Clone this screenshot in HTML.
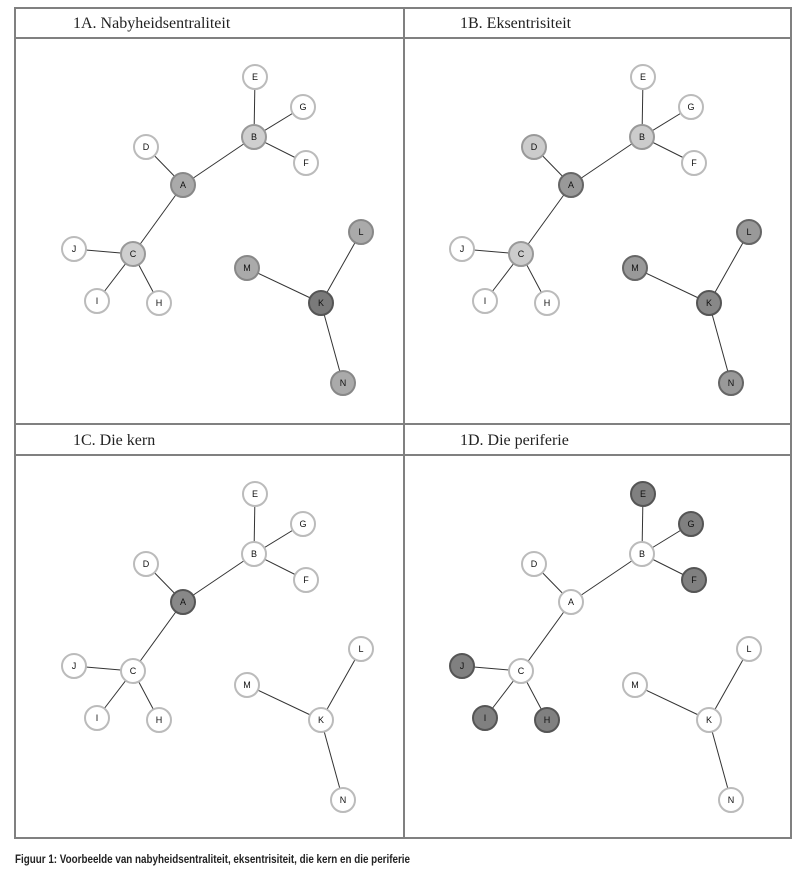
<!DOCTYPE html>
<html><head><style>
html,body{margin:0;padding:0;background:#fff;width:801px;height:881px;overflow:hidden}
</style></head><body>
<svg width="801" height="881" xmlns="http://www.w3.org/2000/svg">
<defs>
<g id="edges" stroke="#333" stroke-width="1">
<line x1="255" y1="77" x2="254" y2="137"/><line x1="303" y1="107" x2="254" y2="137"/>
<line x1="306" y1="163" x2="254" y2="137"/><line x1="183" y1="185" x2="254" y2="137"/>
<line x1="146" y1="147" x2="183" y2="185"/><line x1="183" y1="185" x2="133" y2="254"/>
<line x1="74" y1="249" x2="133" y2="254"/><line x1="97" y1="301" x2="133" y2="254"/>
<line x1="159" y1="303" x2="133" y2="254"/><line x1="361" y1="232" x2="321" y2="303"/>
<line x1="247" y1="268" x2="321" y2="303"/><line x1="343" y1="383" x2="321" y2="303"/>
</g>
</defs>
<!-- table -->
<g fill="none" stroke="#808080" stroke-width="2">
<rect x="15" y="8" width="776" height="830"/>
<line x1="404" y1="8" x2="404" y2="838"/>
<line x1="15" y1="38" x2="791" y2="38"/>
<line x1="15" y1="424" x2="791" y2="424"/>
<line x1="15" y1="455" x2="791" y2="455"/>
</g>
<g font-family="Liberation Serif, serif" font-size="16" fill="#222">
<text x="73" y="28">1A. Nabyheidsentraliteit</text>
<text x="460" y="28">1B. Eksentrisiteit</text>
<text x="73" y="445">1C. Die kern</text>
<text x="460" y="445">1D. Die periferie</text>
</g>
<text x="15" y="863" font-family="Liberation Sans Narrow, Liberation Sans, sans-serif" font-size="12" font-weight="bold" fill="#222" textLength="395" lengthAdjust="spacingAndGlyphs">Figuur 1: Voorbeelde van nabyheidsentraliteit, eksentrisiteit, die kern en die periferie</text>

<g font-family="Liberation Sans, sans-serif" font-size="9" text-anchor="middle" fill="#111" stroke-width="2">
<!-- 1A -->
<g>
<use href="#edges"/>
<g stroke="#bbb" fill="#fff">
<circle cx="255" cy="77" r="12"/><circle cx="303" cy="107" r="12"/><circle cx="306" cy="163" r="12"/><circle cx="146" cy="147" r="12"/>
<circle cx="74" cy="249" r="12"/><circle cx="97" cy="301" r="12"/><circle cx="159" cy="303" r="12"/>
</g>
<g stroke="#999" fill="#cfcfcf"><circle cx="254" cy="137" r="12"/><circle cx="133" cy="254" r="12"/></g>
<g stroke="#888" fill="#aaa"><circle cx="183" cy="185" r="12"/><circle cx="361" cy="232" r="12"/><circle cx="247" cy="268" r="12"/><circle cx="343" cy="383" r="12"/></g>
<g stroke="#555" fill="#7a7a7a"><circle cx="321" cy="303" r="12"/></g>
</g>
<!-- 1B -->
<g transform="translate(388,0)">
<use href="#edges"/>
<g stroke="#bbb" fill="#fff">
<circle cx="255" cy="77" r="12"/><circle cx="303" cy="107" r="12"/><circle cx="306" cy="163" r="12"/>
<circle cx="74" cy="249" r="12"/><circle cx="97" cy="301" r="12"/><circle cx="159" cy="303" r="12"/>
</g>
<g stroke="#999" fill="#cccccc"><circle cx="254" cy="137" r="12"/><circle cx="133" cy="254" r="12"/><circle cx="146" cy="147" r="12"/></g>
<g stroke="#666" fill="#999"><circle cx="183" cy="185" r="12"/><circle cx="361" cy="232" r="12"/><circle cx="247" cy="268" r="12"/><circle cx="343" cy="383" r="12"/></g>
<g stroke="#555" fill="#888"><circle cx="321" cy="303" r="12"/></g>
</g>
<!-- 1C -->
<g transform="translate(0,417)">
<use href="#edges"/>
<g stroke="#bbb" fill="#fff">
<circle cx="255" cy="77" r="12"/><circle cx="303" cy="107" r="12"/><circle cx="306" cy="163" r="12"/><circle cx="146" cy="147" r="12"/>
<circle cx="74" cy="249" r="12"/><circle cx="97" cy="301" r="12"/><circle cx="159" cy="303" r="12"/>
<circle cx="254" cy="137" r="12"/><circle cx="133" cy="254" r="12"/>
<circle cx="361" cy="232" r="12"/><circle cx="247" cy="268" r="12"/><circle cx="343" cy="383" r="12"/><circle cx="321" cy="303" r="12"/>
</g>
<g stroke="#555" fill="#888"><circle cx="183" cy="185" r="12"/></g>
</g>
<!-- 1D -->
<g transform="translate(388,417)">
<use href="#edges"/>
<g stroke="#bbb" fill="#fff">
<circle cx="146" cy="147" r="12"/><circle cx="254" cy="137" r="12"/><circle cx="133" cy="254" r="12"/><circle cx="183" cy="185" r="12"/>
<circle cx="361" cy="232" r="12"/><circle cx="247" cy="268" r="12"/><circle cx="343" cy="383" r="12"/><circle cx="321" cy="303" r="12"/>
</g>
<g stroke="#555" fill="#808080">
<circle cx="255" cy="77" r="12"/><circle cx="303" cy="107" r="12"/><circle cx="306" cy="163" r="12"/>
<circle cx="74" cy="249" r="12"/><circle cx="97" cy="301" r="12"/><circle cx="159" cy="303" r="12"/>
</g>
</g>
<!-- labels -->
<g id="lbl">
<text x="255" y="80">E</text><text x="303" y="110">G</text><text x="254" y="140">B</text><text x="146" y="150">D</text>
<text x="306" y="166">F</text><text x="183" y="188">A</text><text x="74" y="252">J</text><text x="133" y="257">C</text>
<text x="97" y="304">I</text><text x="159" y="306">H</text><text x="361" y="235">L</text><text x="247" y="271">M</text>
<text x="321" y="306">K</text><text x="343" y="386">N</text>
</g>
<use href="#lbl" transform="translate(388,0)"/>
<use href="#lbl" transform="translate(0,417)"/>
<use href="#lbl" transform="translate(388,417)"/>
</g>
</svg>
</body></html>
